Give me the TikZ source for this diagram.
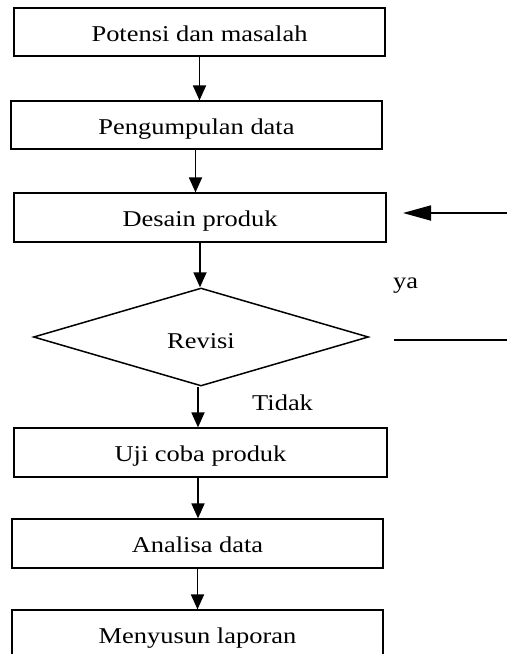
\documentclass[tikz,border=0pt]{standalone}
\usepackage{fontspec}
\newfontfamily\reffont[FakeStretch=1.17]{Liberation Serif}
\usetikzlibrary{arrows.meta,shapes.geometric}
\tikzset{
  stepbox/.style={draw=black,line width=1.2pt,rectangle,minimum height=48pt,inner sep=0pt,
    text height=18pt,text depth=0pt,font=\reffont\fontsize{22.6}{26}\selectfont},
  decbox/.style={draw=black,line width=1.5pt,diamond,minimum width=335pt,minimum height=98pt,inner sep=0pt,
    text height=22pt,text depth=0pt,font=\reffont\fontsize{22.6}{26}\selectfont},
  lbl/.style={inner sep=0pt,anchor=base west,font=\reffont\fontsize{22.6}{26}\selectfont},
  arr/.style={line width=1.8pt,-{Triangle[length=15pt,width=13pt]}},
  bigarr/.style={line width=1.8pt,-{Triangle[length=28pt,width=15pt]}},
  plain/.style={line width=1.9pt}
}
\begin{document}
\begin{tikzpicture}[x=1pt,y=-1pt]
\clip (0,0) rectangle (507,654);
\node[stepbox,minimum width=371pt] (b1) at (199.5,32) {Potensi dan masalah};
\node[stepbox,minimum width=371pt] (b2) at (196.5,125) {Pengumpulan data};
\node[stepbox,minimum width=372pt,minimum height=49pt] (b3) at (200,217.5) {Desain produk};
\node[decbox] (d) at (201,337) {Revisi};
\node[stepbox,minimum width=373pt,minimum height=49pt] (b4) at (200.5,452.5) {Uji coba produk};
\node[stepbox,minimum width=371pt,minimum height=49pt] (b5) at (197.5,543.5) {Analisa data};
\node[stepbox,minimum width=371pt] (b6) at (197.5,634) {Menyusun laporan};
\node[lbl] (ya) at (393,288) {ya};
\node[lbl] (tidak) at (252,410) {Tidak};
\coordinate (rin) at (507,213);
\coordinate (rtip) at (403,213);
\coordinate (lstart) at (394,340);
\coordinate (lend) at (507,340);
\draw[arr] (b1.south) -- (b1.south |- b2.north);
\draw[arr] ([xshift=-1pt]b2.south) -- ([xshift=-1pt]b2.south |- b3.north);
\draw[arr] (b3.south) -- (b3.south |- d.north);
\draw[arr] ([xshift=-3pt]d.south) -- ([xshift=-3pt]d.south |- b4.north);
\draw[arr] ([xshift=-2.5pt]b4.south) -- ([xshift=-2.5pt]b4.south |- b5.north);
\draw[arr] (b5.south) -- (b5.south |- b6.north);
\draw[bigarr] (rin) -- (rtip);
\draw[plain] (lstart) -- (lend);
\end{tikzpicture}
\end{document}
